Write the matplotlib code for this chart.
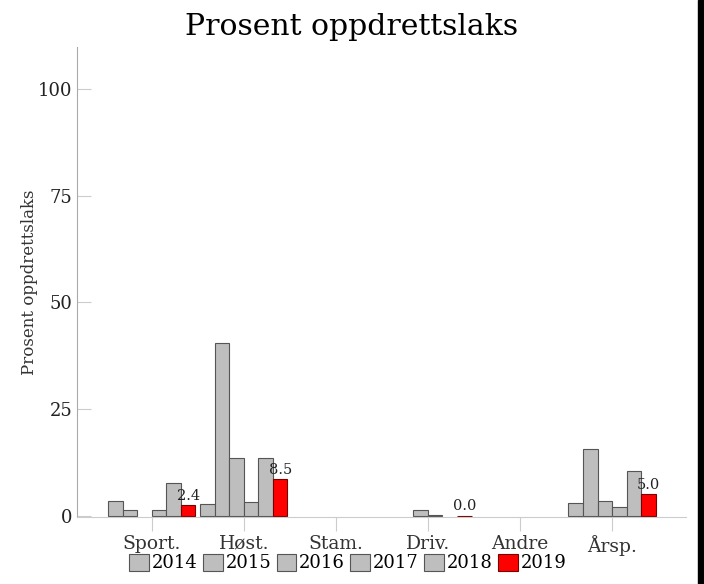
import matplotlib
matplotlib.use('Agg')
import matplotlib.pyplot as plt
import numpy as np

categories = ['Sport.', 'Høst.', 'Stam.', 'Driv.', 'Andre', 'Årsp.']
years = ['2014', '2015', '2016', '2017', '2018', '2019']
nan = np.nan

# percent farmed salmon per category, one list per year
v2014 = [3.5, 2.8, nan, nan, nan, 3.0]
v2015 = [1.4, 40.5, nan, nan, nan, 15.7]
v2016 = [nan, 13.4, nan, 1.4, nan, 3.5]
v2017 = [1.2, 3.2, nan, 0.1, nan, 2.1]
v2018 = [7.7, 13.6, nan, nan, nan, 10.5]
v2019 = [2.4, 8.5, nan, 0.0, nan, 5.0]
values = [v2014, v2015, v2016, v2017, v2018, v2019]

plt.rcParams['font.family'] = 'DejaVu Serif'

fig = plt.figure(figsize=(7.04, 5.84), dpi=100)
ax = fig.add_axes([0.109, 0.115, 0.865, 0.805])

x = np.arange(len(categories))
w = 0.158
for j in range(len(years)):
    col = '#ff0000' if years[j] == '2019' else '#bebebe'
    ec = '#7a0000' if years[j] == '2019' else '#555555'
    bars = ax.bar(x + (j - 2.5) * w, values[j], w, color=col, edgecolor=ec,
                  linewidth=0.8, label=years[j])
    if years[j] == '2019':
        for i in range(len(categories)):
            if not np.isnan(values[j][i]):
                ax.text(x[i] + (j - 2.5) * w, values[j][i] + 0.6,
                        '%.1f' % values[j][i], ha='center', va='bottom',
                        fontsize=10.5, color='#222222')

ax.set_xlim(-0.815, 5.8)
ax.set_ylim(-0.3, 110)
ax.set_xticks(x)
ax.set_xticklabels(categories, fontsize=13.5)
ax.set_yticks([0, 25, 50, 75, 100])
ax.tick_params(axis='y', direction='in', length=10, colors='#cccccc',
               labelcolor='#222222', labelsize=13, pad=3)
ax.tick_params(axis='x', direction='out', length=10, colors='#cccccc',
               labelcolor='#333333', pad=3)
for s in ['top', 'right']:
    ax.spines[s].set_visible(False)
ax.spines['left'].set_color('#aaaaaa')
ax.spines['bottom'].set_color('#cccccc')
ax.set_ylabel('Prosent oppdrettslaks', fontsize=12, color='#333333', labelpad=0)

fig.suptitle('Prosent oppdrettslaks', fontsize=21.5, y=0.978)

fig.legend(loc='center', bbox_to_anchor=(0.494, 0.036), ncol=6, frameon=False,
           fontsize=13, handlelength=1.1, handleheight=1.1, handletextpad=0.15,
           columnspacing=0.3, borderpad=0)

# black border strip on the right edge
fig.patches.append(plt.Rectangle((0.9915, 0), 0.0085, 1, transform=fig.transFigure,
                                 color='black', zorder=10))

fig.savefig('out.png', dpi=100)
